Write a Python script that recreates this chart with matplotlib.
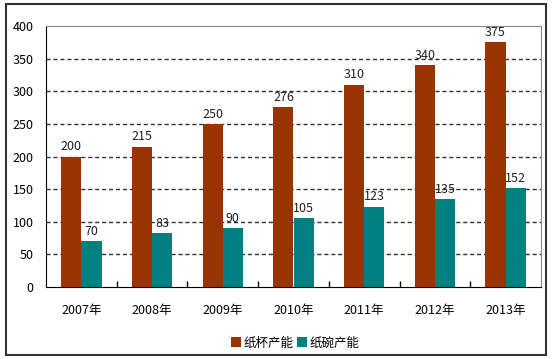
import matplotlib.pyplot as plt
import numpy as np
from matplotlib.patches import Rectangle

plt.rcParams['font.family'] = ['Noto Sans CJK SC', 'DejaVu Sans']

years = ['2007年', '2008年', '2009年', '2010年', '2011年', '2012年', '2013年']
cup = [200, 215, 250, 276, 310, 340, 375]
bowl = [70, 83, 90, 105, 123, 135, 152]
series_names = ['纸杯产能', '纸碗产能']

red = '#993300'
teal = '#008080'
fs = 9

fig = plt.figure(figsize=(5.52, 3.59), dpi=100)
ax = fig.add_axes([46 / 552, 1 - 287 / 359, 495 / 552, 261 / 359])

x = np.arange(len(years))
w = 0.285
b1 = ax.bar(x - w / 2, cup, w, color=red, label=series_names[0])
b2 = ax.bar(x + w / 2, bowl, w, color=teal, label=series_names[1])

for rect, v in zip(b1, cup):
    ax.text(rect.get_x() + rect.get_width() / 2, v + 5, str(v),
            ha='center', va='bottom', fontsize=fs, color='#222222')
for rect, v in zip(b2, bowl):
    ax.text(rect.get_x() + rect.get_width() / 2, v + 5, str(v),
            ha='center', va='bottom', fontsize=fs, color='#222222')

ax.set_xlim(-0.5, len(years) - 0.5)
ax.set_ylim(0, 400)
ax.set_yticks(np.arange(0, 401, 50))
ax.tick_params(axis='y', length=0, labelsize=fs, pad=9)
ax.set_xticks(x)
ax.set_xticklabels(years)
ax.tick_params(axis='x', length=0, labelsize=fs, pad=12)
# category boundary ticks
ax.set_xticks(np.arange(0.5, len(years) - 0.5, 1), minor=True)
ax.tick_params(axis='x', which='minor', direction='in', length=4, width=1, color='black')

for yv in range(50, 400, 50):
    ax.axhline(yv, color='#333333', lw=1, ls=(0, (3, 2)), zorder=0)

ax.spines['left'].set_color('black')
ax.spines['bottom'].set_color('black')
ax.spines['top'].set_color('#888888')
ax.spines['right'].set_color('#888888')
ax.set_axisbelow(True)

ax.legend(loc='center', bbox_to_anchor=(295 / 552, 1 - 343 / 359), bbox_transform=fig.transFigure,
          ncol=2, frameon=False, fontsize=fs, handlelength=0.8, handleheight=0.8,
          handletextpad=0.2, columnspacing=0.3, borderpad=0)

fig.patches.append(Rectangle((6 / 552, 4 / 359), 540 / 552, 351 / 359, transform=fig.transFigure,
                             fill=False, edgecolor='#333333', lw=1.5))

fig.savefig('out.png', dpi=100)
